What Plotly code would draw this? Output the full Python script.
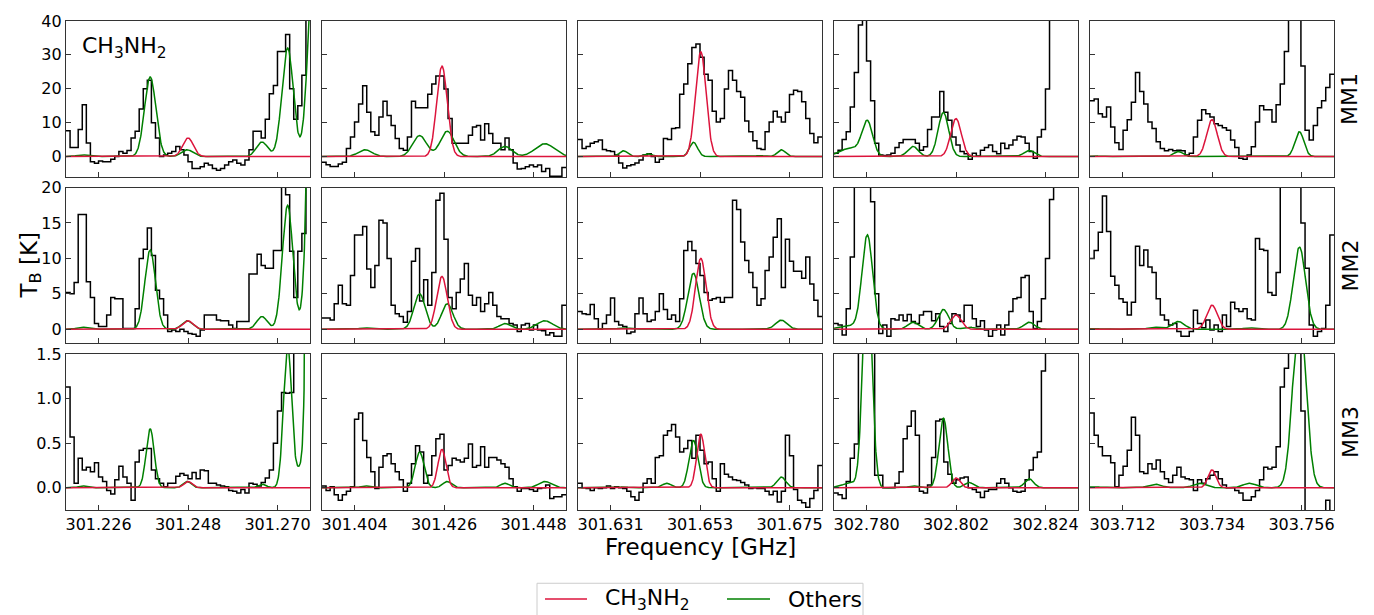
import numpy as np
import plotly.graph_objects as go

# ---------------- data ----------------
centres = [301.248, 301.426, 301.653, 302.802, 303.734]   # GHz, CH3NH2 line per column
tick_offsets = [-0.022, 0.0, 0.022]
half_span = 0.030
sources = ["MM1", "MM2", "MM3"]
y_ranges = [[-6, 40], [-2, 20], [-0.25, 1.5]]
y_ticks = [[0, 10, 20, 30, 40], [0, 5, 10, 15, 20], [0.0, 0.5, 1.0, 1.5]]
y_ticktext = [["0", "10", "20", "30", "40"], ["0", "5", "10", "15", "20"], ["0.0", "0.5", "1.0", "1.5"]]
legend_labels = ["CH<sub>3</sub>NH<sub>2</sub>", "Others"]

# observed spectra (K), channels spread evenly over each panel
mm1_c1 = [7.6, 2.7, 2.7, 8, 15.3, 4, -1.5, -2, -1.3, -1.5, -1.5, -0.8, 0, 1.5, 1, 1.8, 5.5, 7.5, 14, 20,
          22.5, 10, 5.5, 0, 0.5, 1, 1.5, 3, 2, 0.5, -1.5, -3.5, -3.5, -3, -2, -2.5, -3.5, -4, -3.5, -2.5,
          -1.5, -1, -2, -2.5, -1, 2, 7.5, 7.5, 5.5, 11, 18.5, 21, 31, 31, 36, 20, 11, 15, 24, 45]
mm2_c1 = [5.2, 5, 6.6, 16.2, 16.2, 6.7, 4.5, 0.8, 0.4, 0.4, 2, 4.5, 4.3, 4.3, 0.1, 0.1, 0.1, 2.9, 10, 11.3,
          14.3, 10.4, 5.5, 4.3, 2, -0.3, -0.1, -0.3, 0, -0.3, -0.6, -0.7, -1, -0.1, 2, 2, 2, 1.3, 1.2, 1.2,
          0.6, 0.1, 1.1, 1.1, 1.1, 7.8, 7.8, 10.6, 9, 8.6, 8.6, 11.1, 11.1, 20.5, 19, 11, 4.5, 11, 13.5, 22]
mm3_c1 = [1.13, 0.57, 0.05, 0.33, 0.2, 0.23, 0.18, 0.28, 0.12, 0.07, -0.03, -0.07, 0.09, 0.24, 0.12, 0.05,
          -0.14, 0.29, 0.42, 0.44, 0.44, 0.2, 0.1, 0.05, 0.01, 0.05, 0.05, 0.13, 0.16, 0.14, 0.1, 0.17, 0.1,
          0.2, 0.19, 0.05, 0.05, 0.03, 0.02, 0.01, -0.03, -0.04, -0.06, -0.02, -0.06, 0.05, 0.04, 0.02, 0.06,
          0.11, 0.2, 0.5, 0.86, 1.07, 1.06, 1.07, 1.8, 2.0, 2.0, 2.0]

mm1_c2 = [-1.7, -2.4, -2.9, -2.9, -2.2, -1.7, 2.4, 5.8, 10.2, 15.5, 20.9, 13.1, 7.3, 6.3, 11.7, 16.3, 12.1,
          9.2, 5.3, 2.4, 1.9, 5.8, 16.3, 14.4, 14.4, 14.4, 18.4, 21.4, 23.8, 23.8, 19.9, 11.2, 3.9, 3.9, 3.9,
          3.9, 6.3, 8.7, 9.2, 4.9, 9.7, 6.8, 3.9, 3.9, 2, 5.5, 2, -1.9, -3.7, -3.5, -3, -2.5, -3, -2.5, -4.4,
          -3.5, -5.8, -5.8, -5.8, -3.2]
mm2_c2 = [1.6, 1.6, 1.3, 3.6, 6.2, 3.6, 3.4, 7.6, 13.3, 13.3, 14.5, 8.5, 5.9, 9, 15.4, 15, 10, 3.4, 2.2, 1.8,
          1, 2.5, 9.6, 11.4, 4, 7, 3.4, 8, 18.2, 19.2, 12.7, 4.5, 2.9, 5.2, 7.1, 9.3, 4.8, 3.4, 4.5, 2.5, 3.6,
          5.2, 3.4, 1.8, 1.5, 1.5, 0.8, 0.6, -0.3, 0.6, 0.8, -0.1, 0.6, -0.1, -0.2, -0.8, -0.5, -1, -1, 3.4]
mm3_c2 = [0.02, -0.03, 0.01, -0.08, -0.14, -0.08, -0.04, 0.01, 0.77, 0.84, 0.53, 0.34, 0.18, -0.01, 0.23,
          0.36, 0.38, 0.27, 0.18, 0.09, -0.04, 0.05, 0.27, 0.47, 0.4, 0.05, 0.14, 0.36, 0.55, 0.6, 0.2, 0.25,
          0.33, 0.31, 0.29, 0.33, 0.49, 0.23, 0.25, 0.46, 0.23, 0.34, 0.34, 0.31, 0.27, 0.23, 0.1, 0.01,
          -0.04, -0.01, -0.01, -0.02, -0.04, -0.01, 0.0, 0.03, -0.12, -0.1, -0.1, -0.08]

mm1_c3 = [5, 2.4, 3, 3.9, 4.4, 4.9, 2.1, 1.7, 1.5, 0.5, -1.9, -3.4, -2.7, -2.4, -1.9, -1, 0.5, 0.8, 0, -1.7,
          -0.8, 5.3, 5, 8.3, 8.5, 18.4, 21.4, 27.4, 32.2, 33.2, 29.3, 24.3, 22.5, 13.4, 10.2, 11.2, 19.9, 25.4,
          22.5, 19.2, 17.5, 10.5, 7.3, 4.7, 2.4, 2.1, 7.3, 10.2, 13.4, 11.7, 10.2, 13.1, 18.3, 19.6, 19.2,
          16.2, 11.2, 6.8, 4.1, 5.8]
mm2_c3 = [2.5, 2.2, 2.1, 3.5, 1.5, 0, 0.8, 2, 4.4, 1.1, 0.6, 0.4, -0.6, -0.4, 2.2, 4.4, 2.2, 1.1, 1.3, 2.5, 5,
          2.8, 1.4, 2, 1.1, 4.3, 11.1, 12.4, 11.1, 9.3, 7.6, 5.2, 4.1, 4.3, 4.5, 3.8, 4.5, 4.5, 18.2, 16.9,
          12.3, 9.7, 8, 5.9, 3.4, 4.3, 8.3, 10.2, 13, 15.6, 5.9, 12.7, 9.6, 8.2, 8.2, 7.2, 10.2, 6.4, 4.1, 1.8]
mm3_c3 = [0.05, 0.0, -0.01, -0.03, 0.0, -0.01, 0.0, 0.02, -0.01, 0.01, 0.0, -0.01, -0.04, -0.1, -0.14, -0.05,
          0.05, 0.1, 0.05, 0.34, 0.36, 0.59, 0.64, 0.71, 0.57, 0.4, 0.44, 0.53, 0.33, 0.59, 0.42, 0.27, 0.29,
          0.1, -0.04, 0.27, 0.15, 0.12, 0.09, 0.08, 0.06, 0.03, -0.01, 0.0, -0.01, -0.01, -0.04, -0.08, -0.04,
          -0.16, -0.04, 0.59, 0.36, -0.02, -0.14, -0.17, -0.22, -0.12, -0.03, 0.25]

mm1_c4 = [1, 1.9, 5, 7.3, 14.6, 24.8, 38.8, 55, 28.2, 16.5, 3.9, 0.5, 0.3, 0.5, 1, 2.7, 4.1, 5, 5, 5, 3.9, 1.9,
          2.9, 8, 11.7, 11.7, 19.2, 13.1, 10.7, 5.8, 3.4, 1.5, 0.8, -0.8, 1, 0.2, 1.9, 2.7, 3.4, 1.5, 0.8,
          3.9, 2.4, 3.4, 4.9, 6, 5.8, 3.9, 1.5, -0.5, 5.8, 8, 19.9, 60, 60, 60, 60, 60, 60, 60]
mm2_c4 = [0.8, 0.6, -0.8, 2.9, 10.2, 30, 40, 40, 40, 18, 5, -0.6, 0.6, -1, 1.5, 1.3, 2, 1.2, 2.1, 1.1, 0.8, 2,
          2.5, 2.5, 1.2, 2.2, 0.4, -0.3, 0.8, 2.2, 2, 1.1, 3.4, 3.4, 1.5, 0.4, 1.2, -0.1, -1, -0.1, 0.6, -0.8,
          0.6, 2.5, 4.3, 4.5, 7.3, 7.6, 2.5, 0.1, 1.1, 4.3, 10, 18.3, 30, 30, 30, 30, 30, 30]
mm3_c4 = [-0.06, -0.08, -0.12, 0.07, 0.33, 0.49, 1.8, 3, 2.5, 1.6, 0.14, 0.14, 0.0, 0.0, 0.0, 0.05, 0.18, 0.55,
          0.69, 0.86, 0.59, -0.04, -0.06, 0.03, 0.34, 0.75, 0.77, 0.29, 0.15, 0.05, 0.09, 0.11, 0.12, 0.0,
          -0.02, -0.05, -0.11, -0.04, -0.02, -0.02, 0.05, 0.1, 0.05, 0.0, -0.04, -0.05, -0.04, 0.09, 0.2,
          0.34, 0.4, 1.31, 3, 3, 3, 3, 3, 3, 3, 3]

mm1_c5 = [16.5, 17, 12.6, 11.7, 14.6, 8.7, 4.1, 2.1, 7.8, 10.9, 16, 24.8, 19.2, 15.5, 10.2, 8.3, 4.4, 2.4, 1.7,
          2.1, 1.7, 1.9, 1.7, 0.5, 1, 5.8, 10.7, 13.8, 12.6, 11.7, 9.7, 9.2, 8.5, 7.8, 4.9, 2.7, -0.5, -0.8,
          0.5, 2.9, 10.2, 15, 13.8, 13.8, 10.2, 15.3, 21.4, 31, 60, 60, 60, 26.7, 7.8, 4.9, 9.2, 14.4, 16.5,
          20.4, 24.3]
mm2_c5 = [10, 11.1, 13.7, 18.8, 13.8, 7.5, 6.2, 4.3, 3.8, 2, 3.8, 11.7, 9, 11.2, 8.8, 8, 4.3, 2, 1.3, 0.6, 0.8,
          -0.3, -1, -1, -0.3, 2.7, 0.8, 0.2, 1.3, -0.1, 0.6, -0.3, 2, 0.4, 3.8, 2.9, 2.5, 2.9, 1.5, 1.3, 12.8,
          11.3, 11.1, 5.2, 4.8, 8, 25, 40, 40, 40, 30, 15, 8.6, 0.6, -1, -0.3, 0.1, 3.4, 13.3]
mm3_c5 = [0.84, 0.59, 0.46, 0.36, 0.36, 0.28, 0.01, 0.14, 0.24, 0.42, 0.79, 0.59, 0.18, 0.16, 0.27, 0.21, 0.31,
          0.18, 0.1, 0.06, 0.14, 0.23, 0.12, 0.1, 0.09, -0.03, 0.09, 0.05, 0.1, 0.14, 0.18, 0.1, 0.03, 0.0,
          0.0, -0.03, -0.06, -0.14, -0.14, -0.1, -0.03, 0.09, 0.23, 0.21, 0.23, 0.46, 1.13, 1.34, 2.0, 2.2,
          2.0, 0.86, -0.3, -0.3, -0.35, -0.3, -0.3, -0.14, -0.3]

observed = [[mm1_c1, mm1_c2, mm1_c3, mm1_c4, mm1_c5],
            [mm2_c1, mm2_c2, mm2_c3, mm2_c4, mm2_c5],
            [mm3_c1, mm3_c2, mm3_c3, mm3_c4, mm3_c5]]

# CH3NH2 model: Gaussian line at the panel centre
ch3nh2_offset = [0.0, -0.0005, 0.0002, 0.0, 0.0]
ch3nh2_mm1 = [5.5, 26.7, 30.9, 11.2, 10.9]
ch3nh2_mm2 = [1.2, 7.45, 10.0, 2.0, 3.4]
ch3nh2_mm3 = [0.07, 0.43, 0.6, 0.11, 0.2]
ch3nh2_sigma = [0.0013, 0.0013, 0.0010]

# "Others" model components: offsets (GHz), peak per source, relative width
oth_c1_pos = [-0.0260, -0.0093, -0.0002, 0.0182, 0.0245, 0.0276, 0.0310]
oth_c1_mm1 = [0.5, 23.5, 2.0, 4.3, 32, 0.0, 60]
oth_c1_mm2 = [0.3, 11.2, 1.2, 1.8, 17.5, 0.0, 60]
oth_c1_mm3 = [0.02, 0.66, 0.07, 0.04, 1.6, 0.2, 20]
oth_c1_wid = [1, 1, 1, 1, 1, 1, 1]

oth_c2_pos = [-0.0194, -0.0060, 0.0008, 0.0150, 0.0248]
oth_c2_mm1 = [2.0, 6.2, 7.5, 3.0, 3.8]
oth_c2_mm2 = [0.2, 5.0, 3.6, 0.8, 1.2]
oth_c2_mm3 = [0.02, 0.40, 0.07, 0.05, 0.07]
oth_c2_wid = [1, 1, 1, 1, 1.4]

oth_c3_pos = [-0.0188, -0.0127, -0.0082, -0.0016, 0.0147, 0.0200]
oth_c3_mm1 = [1.7, 0.8, 0.0, 4.2, 0.3, 2.0]
oth_c3_mm2 = [0.2, 0.1, 0.0, 7.9, 0.1, 1.3]
oth_c3_mm3 = [0.01, 0.0, 0.05, 0.53, 0.0, 0.12]
oth_c3_wid = [1, 1, 1, 1, 1, 1]

oth_c4_pos = [-0.0259, -0.0218, -0.0106, -0.0031, 0.0032, 0.0180]
oth_c4_mm1 = [2.5, 10.0, 3.0, 13.0, 0.0, 1.8]
oth_c4_mm2 = [0.5, 13.2, 1.0, 2.8, 0.3, 1.0]
oth_c4_mm3 = [0.05, 2.5, 0.02, 0.78, 0.06, 0.1]
oth_c4_wid = [2, 1, 1, 1, 1, 1]

oth_c5_pos = [-0.0288, -0.0141, -0.0083, -0.0030, 0.0092, 0.0215]
oth_c5_mm1 = [0.2, 0.2, 1.5, 0.0, 0.1, 7.3]
oth_c5_mm2 = [0.1, 0.3, 1.1, 0.0, 0.2, 11.6]
oth_c5_mm3 = [0.01, 0.04, 0.0, 0.05, 0.05, 2.0]
oth_c5_wid = [1, 1, 1, 1, 1, 1]

# width of the "Others" lines per column and source (GHz)
oth_sigma_c1 = [0.0014, 0.0013, 0.0010]
oth_sigma_c2 = [0.0017, 0.0014, 0.0011]
oth_sigma_c3 = [0.0010, 0.0014, 0.0011]
oth_sigma_c4 = [0.0013, 0.0013, 0.0011]
oth_sigma_c5 = [0.0011, 0.0015, 0.0016]

others_pos = [oth_c1_pos, oth_c2_pos, oth_c3_pos, oth_c4_pos, oth_c5_pos]
others_amp = [[oth_c1_mm1, oth_c1_mm2, oth_c1_mm3], [oth_c2_mm1, oth_c2_mm2, oth_c2_mm3],
              [oth_c3_mm1, oth_c3_mm2, oth_c3_mm3], [oth_c4_mm1, oth_c4_mm2, oth_c4_mm3],
              [oth_c5_mm1, oth_c5_mm2, oth_c5_mm3]]
others_wid = [oth_c1_wid, oth_c2_wid, oth_c3_wid, oth_c4_wid, oth_c5_wid]
others_sig = [oth_sigma_c1, oth_sigma_c2, oth_sigma_c3, oth_sigma_c4, oth_sigma_c5]
ch3nh2_amp = [ch3nh2_mm1, ch3nh2_mm2, ch3nh2_mm3]

# ---------------- figure ----------------
FONT = "DejaVu Sans"
RED = "#DC143C"
GREEN = "#008000"
W, H = 1374, 615
L, R, T, B = 66, 40, 16, 105
PW, PH = W - L - R, H - T - B
col_w, col_step = 244, 256
row_h, row_step = 157.5, 168.25


def px_x(px):
    return (px - L) / PW


def px_y(py):
    return (H - B - py) / PH


fig = go.Figure()
layout = {}

for r in range(3):
    for c in range(5):
        i = r * 5 + c + 1
        sfx = "" if i == 1 else str(i)
        xa, ya = "x" + sfx, "y" + sfx
        c0 = centres[c]
        lo, hi = c0 - half_span, c0 + half_span

        vals = observed[r][c]
        n = len(vals)
        edges = np.linspace(lo, hi, n + 1)
        fig.add_trace(go.Scatter(x=edges, y=list(vals) + [vals[-1]], mode="lines",
                                 line=dict(color="black", width=1.5, shape="hv"),
                                 xaxis=xa, yaxis=ya, showlegend=False, hoverinfo="skip"))

        f = np.linspace(lo, hi, 700)
        g = np.zeros_like(f)
        for p, a, w in zip(others_pos[c], others_amp[c][r], others_wid[c]):
            s = others_sig[c][r] * w
            g += a * np.exp(-0.5 * ((f - (c0 + p)) / s) ** 2)
        fig.add_trace(go.Scatter(x=f, y=g, mode="lines", line=dict(color=GREEN, width=1.5),
                                 name=legend_labels[1], showlegend=False,
                                 xaxis=xa, yaxis=ya, hoverinfo="skip"))
        m = ch3nh2_amp[r][c] * np.exp(-0.5 * ((f - (c0 + ch3nh2_offset[c])) / ch3nh2_sigma[r]) ** 2)
        fig.add_trace(go.Scatter(x=f, y=m, mode="lines", line=dict(color=RED, width=1.5),
                                 name=legend_labels[0], showlegend=False,
                                 xaxis=xa, yaxis=ya, hoverinfo="skip"))

        x0 = (c * col_step) / PW
        x1 = (c * col_step + col_w) / PW
        ytop = 1 - (r * row_step) / PH
        ybot = 1 - (r * row_step + row_h) / PH
        tv = [c0 + o for o in tick_offsets]
        layout["xaxis" + sfx] = dict(
            domain=[x0, x1], anchor=ya, range=[lo, hi], tickvals=tv,
            ticktext=["%.3f" % v for v in tv], showticklabels=(r == 2),
            ticks="inside", ticklen=5, tickwidth=1.2, tickcolor="#333",
            showline=True, mirror=True, linecolor="#333", linewidth=1.3,
            showgrid=False, zeroline=False,
            tickfont=dict(family=FONT, size=16, color="black"))
        layout["yaxis" + sfx] = dict(
            domain=[ybot, ytop], anchor=xa, range=y_ranges[r], tickvals=y_ticks[r],
            ticktext=y_ticktext[r], showticklabels=(c == 0),
            ticks="inside", ticklen=5, tickwidth=1.2, tickcolor="#333",
            showline=True, mirror=True, linecolor="#333", linewidth=1.3,
            showgrid=False, zeroline=False,
            tickfont=dict(family=FONT, size=16, color="black"))

annotations = []
for r, name in enumerate(sources):
    sfx = "" if r == 0 else str(r * 5 + 1)
    annotations.append(dict(text=name, xref="paper", yref="y" + sfx + " domain", x=px_x(1350), y=0.5,
                            xanchor="center", yanchor="middle", textangle=-90, showarrow=False,
                            font=dict(family=FONT, size=22, color="black")))
annotations.append(dict(text="CH<sub>3</sub>NH<sub>2</sub>", xref="x domain", yref="y domain",
                        x=0.058, y=0.83, xanchor="left", yanchor="middle", showarrow=False,
                        font=dict(family=FONT, size=22, color="black")))
annotations.append(dict(text="T<sub>B</sub> [K]", xref="paper", yref="paper", x=px_x(30), y=0.5,
                        xanchor="center", yanchor="middle", textangle=-90, showarrow=False,
                        font=dict(family=FONT, size=23, color="black")))
annotations.append(dict(text="Frequency [GHz]", xref="paper", yref="paper", x=0.5, y=px_y(547),
                        xanchor="center", yanchor="middle", showarrow=False,
                        font=dict(family=FONT, size=23, color="black")))

# legend box (drawn in the bottom margin, partly cut by the page edge like the reference)
shapes = [dict(type="rect", xref="paper", yref="paper", x0=px_x(537), x1=px_x(863),
               y0=px_y(640), y1=px_y(584), line=dict(color="#cccccc", width=1), fillcolor="white",
               layer="above")]
leg_y = px_y(600)
for (xa0, xa1, xt), col, lab in zip([(545, 587, 603), (727, 770, 786)], [RED, GREEN], legend_labels):
    shapes.append(dict(type="line", xref="paper", yref="paper", x0=px_x(xa0), x1=px_x(xa1),
                       y0=leg_y, y1=leg_y, line=dict(color=col, width=1.5), layer="above"))
    annotations.append(dict(text=lab, xref="paper", yref="paper", x=px_x(xt), y=leg_y,
                            xanchor="left", yanchor="middle", showarrow=False,
                            font=dict(family=FONT, size=22, color="black")))

fig.update_layout(
    **layout,
    annotations=annotations,
    shapes=shapes,
    width=W, height=H,
    margin=dict(l=L, r=R, t=T, b=B, pad=0),
    paper_bgcolor="white", plot_bgcolor="white",
    font=dict(family=FONT, size=16, color="black"),
    showlegend=False,
)

fig.write_html("out.html", config={"displayModeBar": False},
               post_script="document.body.style.margin='0';document.body.style.overflow='hidden';")
